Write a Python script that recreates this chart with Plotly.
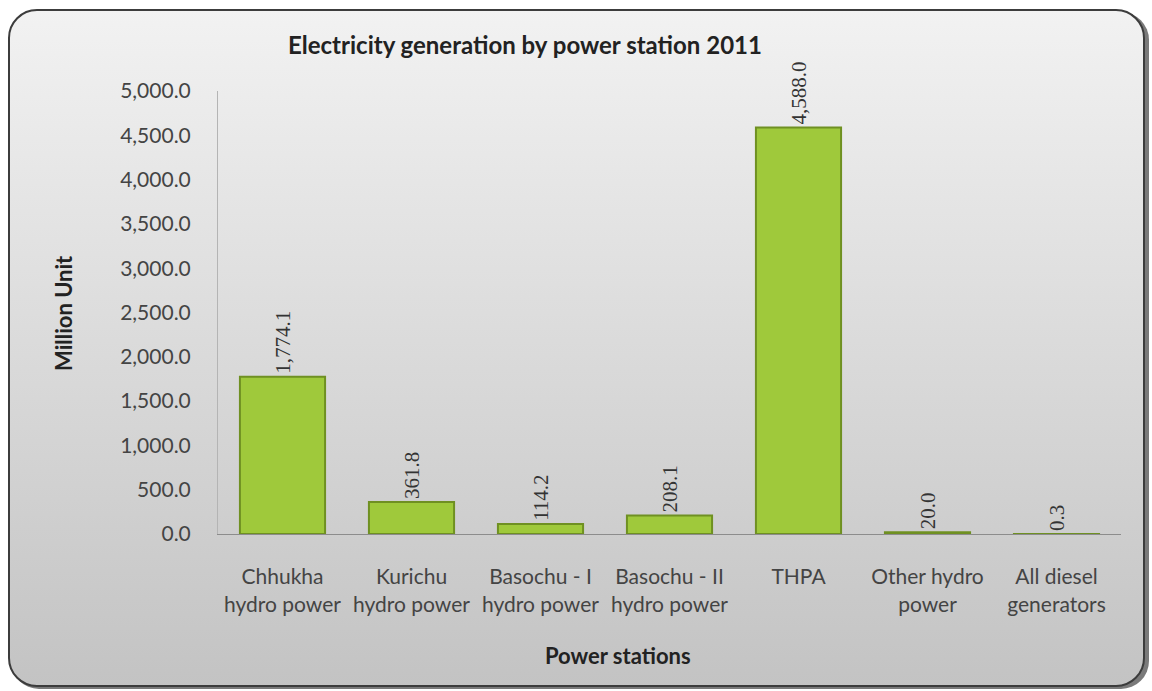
import base64
import plotly.graph_objects as go

# data
stations = ["Chhukha<br>hydro power", "Kurichu<br>hydro power", "Basochu - I<br>hydro power",
            "Basochu - II<br>hydro power", "THPA", "Other hydro<br>power", "All diesel<br>generators"]
generation = [1774.1, 361.8, 114.2, 208.1, 4588.0, 20.0, 0.3]

W, H = 1152, 691
L, R, T, B = 218, 31, 91, 157
pw, ph = W - L - R, H - T - B


def px2paper(x, y):
    return (x - L) / pw, (H - B - y) / ph


# rounded frame with a soft grey gradient, drawn as a background picture
svg = (
    "<svg xmlns='http://www.w3.org/2000/svg' width='1152' height='691' viewBox='0 0 1152 691' "
    "preserveAspectRatio='none'>"
    "<defs><linearGradient id='g' x1='0' y1='0' x2='0' y2='1'>"
    "<stop offset='0' stop-color='#f2f2f2'/><stop offset='1' stop-color='#c3c3c3'/>"
    "</linearGradient></defs>"
    "<rect x='11' y='12' width='1138' height='677' rx='28' fill='#7a7a7a'/>"
    "<rect x='9' y='10' width='1135' height='676' rx='28' fill='url(#g)' stroke='#3c3c3c' stroke-width='2'/>"
    "</svg>"
)
bg = "data:image/svg+xml;base64," + base64.b64encode(svg.encode()).decode()

fig = go.Figure()

fig.add_trace(go.Bar(
    x=stations,
    y=generation,
    width=0.66,
    marker=dict(color="#9fc93b", line=dict(color="#6f9022", width=2)),
    texttemplate="%{y:,.1f}",
    textposition="outside",
    textangle=-90,
    textfont=dict(family="Liberation Serif", size=21, color="#333333"),
    cliponaxis=False,
    showlegend=False,
))

fig.add_layout_image(source=bg, xref="paper", yref="paper", x=-L / pw, y=1 + T / ph,
                     sizex=W / pw, sizey=H / ph, xanchor="left", yanchor="top",
                     sizing="stretch", layer="below")

fig.add_annotation(text="<b>Electricity generation by power station 2011</b>",
                   x=px2paper(525, 0)[0], y=px2paper(0, 45)[1], xref="paper", yref="paper",
                   xanchor="center", yanchor="middle",
                   showarrow=False, font=dict(family="Lato", size=24, color="#222222"))
fig.add_annotation(text="<b>Million Unit</b>",
                   x=px2paper(63, 0)[0], y=px2paper(0, 313)[1], xref="paper", yref="paper",
                   xanchor="center", yanchor="middle",
                   textangle=-90, showarrow=False, font=dict(family="Lato", size=22, color="#222222"))
fig.add_annotation(text="<b>Power stations</b>",
                   x=px2paper(618, 0)[0], y=px2paper(0, 655)[1], xref="paper", yref="paper",
                   xanchor="center", yanchor="middle",
                   showarrow=False, font=dict(family="Lato", size=22, color="#222222"))

fig.update_layout(
    width=W, height=H,
    margin=dict(l=L, r=R, t=T, b=B),
    paper_bgcolor="white",
    plot_bgcolor="rgba(0,0,0,0)",
    font=dict(family="Lato", size=20, color="#444444"),
    bargap=0.34,
)
fig.update_xaxes(showline=True, linecolor="#8c8c8c", linewidth=1, ticks="", showgrid=False,
                 ticklabelstandoff=24,
                 tickfont=dict(family="Lato", size=21, color="#444444"))
fig.update_yaxes(range=[0, 5000], dtick=500, tickformat=",.1f", showline=True, linecolor="#b4b4b4",
                 linewidth=1, showgrid=False, zeroline=False, ticks="", ticklabelstandoff=22,
                 tickfont=dict(family="Lato", size=21, color="#444444"))

fig.write_html("out.html", config={"displayModeBar": False},
               post_script="document.body.style.margin='0';")
